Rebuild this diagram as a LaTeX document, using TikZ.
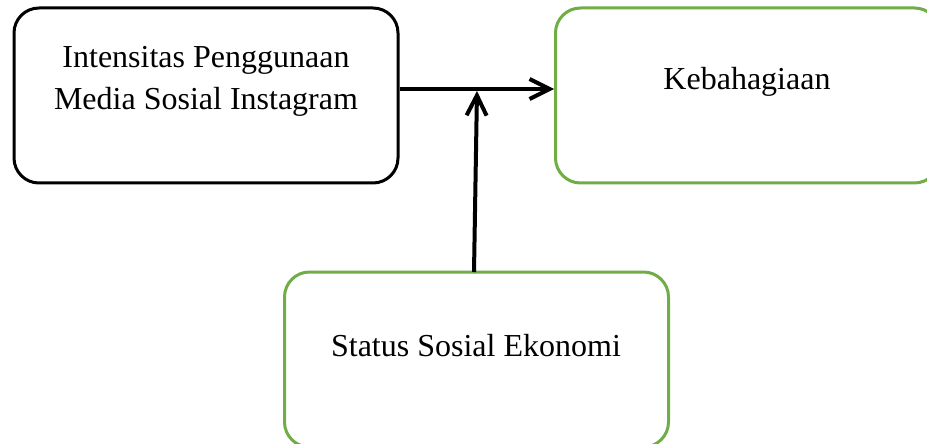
\documentclass[tikz,border=0pt]{standalone}
\usepackage{fontspec}
\setmainfont{Liberation Serif}
\usetikzlibrary{arrows.meta}
\definecolor{hijau}{HTML}{70AD47}
\begin{document}
\begin{tikzpicture}[x=0.5pt,y=-0.5pt]

      \tikzset{kotak/.style={draw, rounded corners=12.5pt, line width=1.5pt, inner sep=0pt, minimum width=192pt, minimum height=87.5pt},
               teks/.style={align=center, font=\fontsize{16}{21}\selectfont},
               panah/.style={line width=2pt, -{Straight Barb[length=10pt,width=10pt,line width=2pt]}}}
      \clip (0,0) rectangle (927,444);
% Kotak
	%Variabel bebas
      	\node[kotak] (media) at (206,95.5) {};
      	\node[teks] (mediateks) at (206,81) {Intensitas Penggunaan\\Media Sosial Instagram};
	%Variabel terikat
      	\node[kotak, draw=hijau] (bahagia) at (747.5,95.5) {};
      	\node[teks] (bahagiateks) at (747,82) {Kebahagiaan};
	%Variabel moderator
      	\node[kotak, draw=hijau] (status) at (476.5,359.5) {};
      	\node[teks] (statusteks) at (476,346) {Status Sosial Ekonomi};
      	\coordinate (temu) at (477,91);
%Panah
		\draw[panah] (media.east |- 0,89) -- (bahagia.west |- 0,89);
		\draw[panah] (474,272) -- (temu);

\end{tikzpicture}
\end{document}
